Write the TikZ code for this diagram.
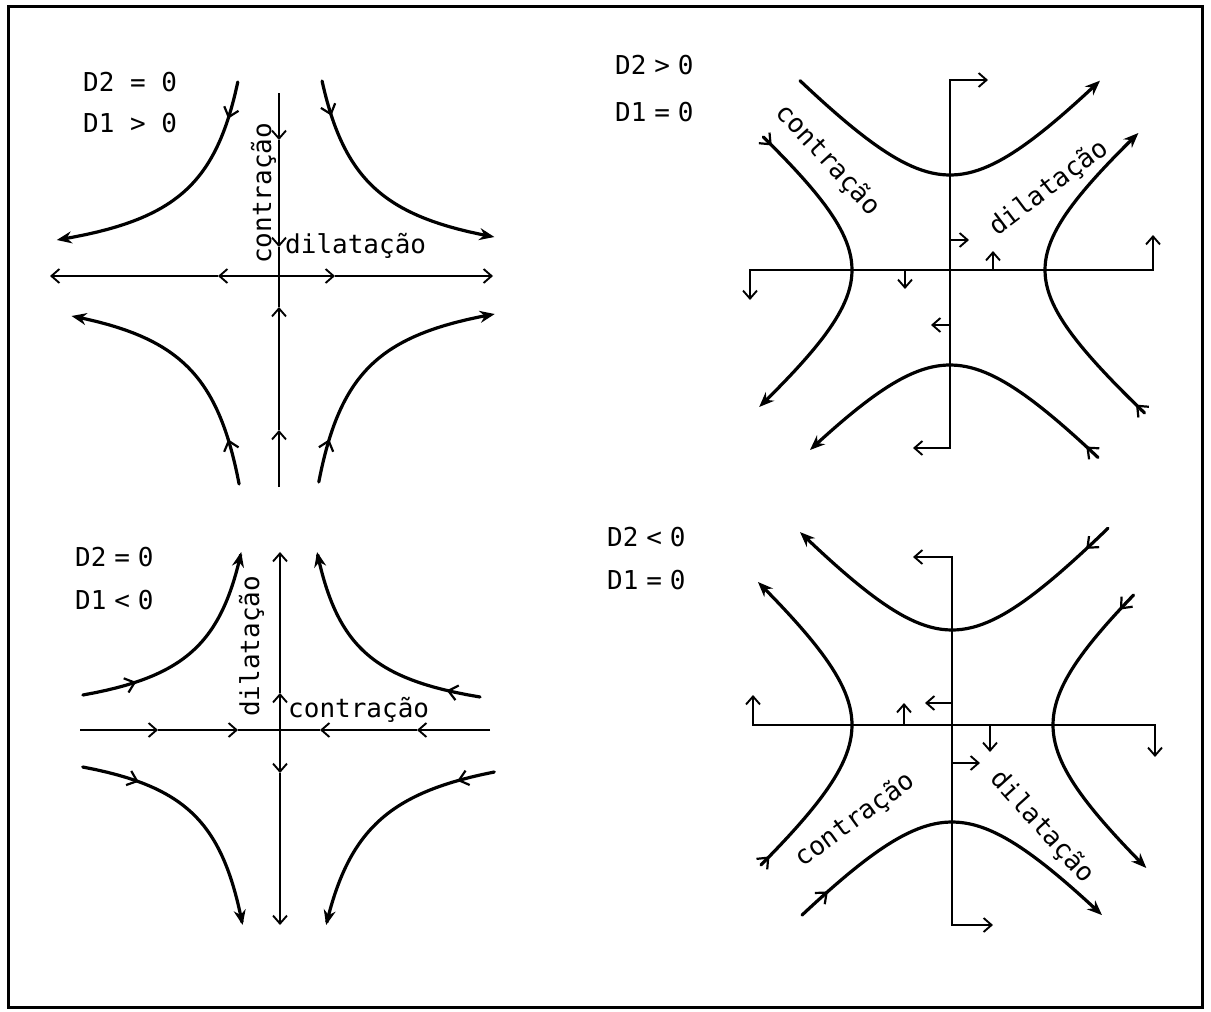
\documentclass[tikz,border=0pt]{standalone}
\usepackage{fontspec}
\newfontfamily\twfont{DejaVu Sans Mono}
\usetikzlibrary{arrows.meta,decorations.markings}
\begin{document}
\begin{tikzpicture}[x=1pt,y=-1pt,
  hcurve/.style={line width=3.2pt, line cap=round},
  axline/.style={line width=2.1pt},
  endtip/.style={-{Stealth[length=15pt,width=12pt]}},
  axtip/.style={-{Straight Barb[length=8pt,width=14pt,line width=1.9pt]}},
  bothtip/.style={{Straight Barb[length=8pt,width=14pt,line width=1.9pt]}-{Straight Barb[length=8pt,width=14pt,line width=1.9pt]}},
  inarr/.style={postaction={decorate,decoration={markings,mark=at position #1 with {\arrow{Straight Barb[length=9pt,width=15pt,line width=2.2pt]}}}}},
  lbl/.style={font=\twfont\fontsize{26}{30}\selectfont, inner sep=0pt},
]
\useasboundingbox (0,0) rectangle (1211,1012);
\draw[line width=3pt] (8,6) rectangle (1202,1007);

% ---------------- top left: D2 = 0, D1 > 0 ----------------
\node[lbl, anchor=west] (tlA) at (83,82) {D2 = 0};
\node[lbl, anchor=west] (tlB) at (83,123) {D1 > 0};
\begin{scope}[shift={(279,276)}]
  \coordinate (tlC) at (0,0);
  \draw[axline,axtip] (0,0) -- (-61,0);
  \draw[axline,axtip] (-61,0) -- (-229,0);
  \draw[axline,axtip] (0,0) -- (56,0);
  \draw[axline,axtip] (56,0) -- (214,0);
  \draw[axline,axtip] (0,-183) -- (0,-136);
  \draw[axline,axtip] (0,-136) -- (0,-29);
  \draw[axline] (0,-29) -- (0,31);
  \draw[axline,axtip] (0,211) -- (0,154);
  \draw[axline,axtip] (0,154) -- (0,31);
  \draw[hcurve,endtip,inarr=38pt] plot[domain=194:36,samples=60] ({-8000/\x},{-\x});
  \draw[hcurve,endtip,inarr=36pt] plot[domain=195:39,samples=60] ({8400/\x},{-\x});
  \draw[hcurve,endtip,inarr=46pt] plot[domain=208:40,samples=60] ({-8300/\x},{\x});
  \draw[hcurve,endtip,inarr=44pt] plot[domain=206:38,samples=60] ({8200/\x},{\x});
\end{scope}
\node[lbl, rotate=90, anchor=base west] (tlV) at (271,264) {contração};
\node[lbl, anchor=base west] (tlH) at (285,253) {dilatação};

% ---------------- bottom left: D2 = 0, D1 < 0 ----------------
\node[lbl, anchor=west] (blA) at (75,557) {D2\hspace{0.3em}=\hspace{0.3em}0};
\node[lbl, anchor=west] (blB) at (75,600) {D1\hspace{0.3em}<\hspace{0.3em}0};
\begin{scope}[shift={(280,730)}]
  \coordinate (blC) at (0,0);
  \draw[axline,axtip] (0,0) -- (0,-37);
  \draw[axline,axtip] (0,-37) -- (0,-178);
  \draw[axline,axtip] (0,0) -- (0,43);
  \draw[axline,axtip] (0,43) -- (0,195);
  \draw[axline,axtip] (-200,0) -- (-122,0);
  \draw[axline,axtip] (-122,0) -- (-42,0);
  \draw[axline] (-42,0) -- (40,0);
  \draw[axline,axtip] (210,0) -- (137,0);
  \draw[axline,axtip] (137,0) -- (40,0);
  \draw[hcurve,endtip,inarr=55pt] plot[domain=35:178,samples=60] ({-6900/\x},{-\x});
  \draw[hcurve,endtip,inarr=34pt] plot[domain=33:178,samples=60] ({6600/\x},{-\x});
  \draw[hcurve,endtip,inarr=58pt] plot[domain=37:195,samples=60] ({-7300/\x},{\x});
  \draw[hcurve,endtip,inarr=38pt] plot[domain=42:195,samples=60] ({9000/\x},{\x});
\end{scope}
\node[lbl, rotate=90, anchor=base west] (blV) at (259,717) {dilatação};
\node[lbl, anchor=base west] (blH) at (288,717) {contração};

% ---------------- top right: D2 > 0, D1 = 0 ----------------
\node[lbl, anchor=west] (trA) at (615,65) {D2\hspace{0.3em}>\hspace{0.3em}0};
\node[lbl, anchor=west] (trB) at (615,112) {D1\hspace{0.3em}=\hspace{0.3em}0};
\begin{scope}[shift={(950,270)}]
  \coordinate (trC) at (0,0);
  \draw[axline,bothtip] (38,-190) -- (0,-190) -- (0,178) -- (-37,178);
  \draw[axline,bothtip] (-200,30) -- (-200,0) -- (203,0) -- (203,-35);
  \draw[axline,axtip] (0,-30) -- (19,-30);
  \draw[axline,axtip] (0,55) -- (-19,55);
  \draw[axline,axtip] (43,0) -- (43,-19);
  \draw[axline,axtip] (-45,0) -- (-45,19);
  \draw[hcurve,endtip] plot[domain=-150:150,samples=60] ({\x},{-95*sqrt(1+(\x/87)*(\x/87))});
  \draw[hcurve,endtip,inarr=16pt] plot[domain=148:-140,samples=60] ({\x},{95*sqrt(1+(\x/87)*(\x/87))});
  \draw[hcurve,endtip,inarr=12pt] plot[domain=-133:137,samples=60] ({-98*sqrt(1+(\x/82)*(\x/82))},{\x});
  \draw[hcurve,endtip,inarr=12pt] plot[domain=143:-137,samples=60] ({95*sqrt(1+(\x/80)*(\x/80))},{\x});
\end{scope}
\node[lbl, rotate=-47.5] (trL) at (828,160) {contração};
\node[lbl, rotate=37] (trR) at (1049,188) {dilatação};

% ---------------- bottom right: D2 < 0, D1 = 0 ----------------
\node[lbl, anchor=west] (brA) at (607,537) {D2\hspace{0.3em}<\hspace{0.3em}0};
\node[lbl, anchor=west] (brB) at (607,580) {D1\hspace{0.3em}=\hspace{0.3em}0};
\begin{scope}[shift={(952,725)}]
  \coordinate (brC) at (0,0);
  \draw[axline,bothtip] (-39,-168) -- (0,-168) -- (0,200) -- (41,200);
  \draw[axline,bothtip] (-199,-30) -- (-199,0) -- (203,0) -- (203,32);
  \draw[axline,axtip] (0,-22) -- (-27,-22);
  \draw[axline,axtip] (0,38) -- (28,38);
  \draw[axline,axtip] (-48,0) -- (-48,-22);
  \draw[axline,axtip] (38,0) -- (38,27);
  \draw[hcurve,endtip,inarr=30pt] plot[domain=156:-152,samples=60] ({\x},{-95*sqrt(1+(\x/86)*(\x/86))});
  \draw[hcurve,endtip,inarr=35pt] plot[domain=-150:150,samples=60] ({\x},{97*sqrt(1+(\x/89)*(\x/89))});
  \draw[hcurve,endtip,inarr=12pt] plot[domain=140:-143,samples=60] ({-100*sqrt(1+(\x/86)*(\x/86))},{\x});
  \draw[hcurve,endtip,inarr=20pt] plot[domain=-130:143,samples=60] ({101*sqrt(1+(\x/87)*(\x/87))},{\x});
\end{scope}
\node[lbl, rotate=36] (brL) at (855,820) {contração};
\node[lbl, rotate=-48] (brR) at (1042,827) {dilatação};
\end{tikzpicture}
\end{document}
